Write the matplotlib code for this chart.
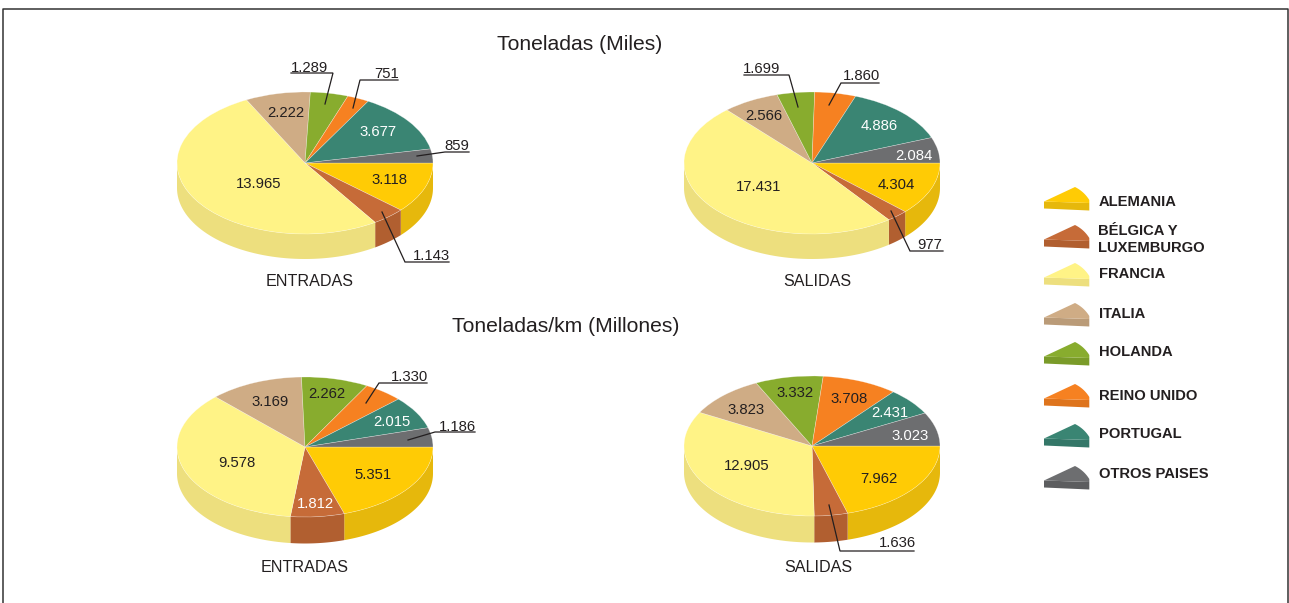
import numpy as np
import matplotlib
matplotlib.use("Agg")
import matplotlib.pyplot as plt
from matplotlib.patches import Polygon

plt.rcParams['font.family'] = ['Liberation Sans', 'DejaVu Sans']

W, H = 1289, 603

# Datos
paises = ['ALEMANIA', 'BÉLGICA Y\nLUXEMBURGO', 'FRANCIA', 'ITALIA', 'HOLANDA',
          'REINO UNIDO', 'PORTUGAL', 'OTROS PAISES']
miles_entradas = [3118, 1143, 13965, 2222, 1289, 751, 3677, 859]
miles_salidas = [4304, 977, 17431, 2566, 1699, 1860, 4886, 2084]
km_entradas = [5351, 1812, 9578, 3169, 2262, 1330, 2015, 1186]
km_salidas = [7962, 1636, 12905, 3823, 3332, 3708, 2431, 3023]

# Colores: cara superior y lateral
col_top = ['#FFCB05', '#C66B38', '#FFF386', '#CFAC85', '#88AC2E', '#F68121', '#3A8573', '#6D6E70']
col_side = ['#E6B80C', '#B15F30', '#EDDF7E', '#BA9B78', '#7A9B29', '#DE741D', '#347768', '#5C5D5F']
TEXTO = '#231F20'
BLANCOS = {3677, 4886, 2084, 2015, 2431, 3023, 1812}

# Posicion de cada tarta (centro x, centro y, rx, ry, grosor) y de sus etiquetas en pixeles
tartas = [
    (miles_entradas, (305, 163, 128, 71, 25),
     [(389, 179), (431, 255), (259, 183), (286, 112), (310, 67), (387, 73), (378, 131), (457, 145)],
     [[(291, 73), (333, 73), (325, 104)], [(398, 80), (360, 80), (353, 108)],
      [(469, 152), (445, 152), (417, 156)], [(449, 262), (405, 262), (382, 212)]]),
    (miles_salidas, (812, 163, 128, 71, 25),
     [(896, 184), (930, 244), (759, 186), (764, 115), (762, 68), (862, 75), (879, 125), (914, 155)],
     [[(744, 75), (789, 75), (798, 107)], [(879, 83), (841, 83), (829, 105)],
      [(943, 251), (910, 251), (891, 211)]]),
    (km_entradas, (305, 447, 128, 70, 26.5),
     [(373, 474), (315, 503), (237, 462), (270, 401), (327, 393), (409, 376), (392, 421), (457, 426)],
     [[(427, 383), (379, 383), (366, 403)], [(475, 432), (435, 432), (408, 440)]]),
    (km_salidas, (812, 446, 128, 70, 26.5),
     [(879, 478), (897, 542), (747, 465), (746, 409), (795, 392), (849, 398), (890, 412), (910, 435)],
     [[(914, 551), (840, 551), (829, 505)]]),
]

fig = plt.figure(figsize=(W / 100, H / 100), dpi=100, facecolor='white')


def tarta(valores, geo):
    cx, cy, rx, ry, d = geo
    ax = fig.add_axes([(cx - rx) / W, 1 - (cy + ry + d) / H, 2 * rx / W, (2 * ry + d) / H])
    grosor = d / ry
    # Lateral: solo la mitad delantera es visible
    bordes = np.cumsum([0] + list(valores)) / sum(valores) * 360
    for i in range(len(valores)):
        a, b = bordes[i], min(bordes[i + 1], 180)
        if a >= 180:
            continue
        t = np.radians(np.linspace(a, b, 60))
        x = np.cos(t)
        y = -np.sin(t)
        ax.fill(np.r_[x, x[::-1]], np.r_[y, y[::-1] - grosor], color=col_side[i], lw=0)
    ax.pie(valores, colors=col_top, startangle=0, counterclock=False, radius=1,
           wedgeprops={'linewidth': 0.4, 'edgecolor': (1, 1, 1, 0.45)})
    ax.set_aspect('auto')
    ax.set_xlim(-1, 1)
    ax.set_ylim(-1 - grosor, 1)
    ax.axis('off')
    ax.patch.set_alpha(0)


for valores, geo, _, _ in tartas:
    tarta(valores, geo)

# Capa en pixeles para textos, lineas guia y leyenda
capa = fig.add_axes([0, 0, 1, 1], zorder=5)
capa.set_xlim(0, W)
capa.set_ylim(H, 0)
capa.axis('off')
capa.patch.set_alpha(0)

# Marco
capa.plot([2.7, 2.7, 1288, 1288], [H, 9, 9, H], color='#333333', lw=1.1)

for valores, geo, pos, guias in tartas:
    for v, (x, y) in zip(valores, pos):
        txt = f'{v:,}'.replace(',', '.')
        capa.text(x, y + 0.8, txt, ha='center', va='center', fontsize=10.7,
                  color='white' if v in BLANCOS else TEXTO)
    for g in guias:
        xs, ys = zip(*g)
        capa.plot(xs, ys, color=TEXTO, lw=0.9, solid_joinstyle='miter')

capa.text(580, 44.5, 'Toneladas (Miles)', ha='center', va='center', fontsize=15.2, color=TEXTO)
capa.text(566, 327, 'Toneladas/km (Millones)', ha='center', va='center', fontsize=15.2, color=TEXTO)
for x, y, s in [(310, 282, 'ENTRADAS'), (817, 282, 'SALIDAS'),
                (305, 568, 'ENTRADAS'), (818, 568, 'SALIDAS')]:
    capa.text(x, y, s, ha='center', va='center', fontsize=11.6, color=TEXTO)

# Leyenda con porciones pequenas
ley_y = [187, 225, 263, 303, 342, 384, 424, 466]
ley_txt = [201.5, 239.5, 273.5, 314.5, 352.5, 395.5, 434.5, 474.5]
s = np.linspace(0, 1, 14)
for i, (y0, yt) in enumerate(zip(ley_y, ley_txt)):
    # Curva del borde exterior de la porcion
    arco = np.c_[1075 + 2 * (1 - s) * s * 9 + s ** 2 * 14.3,
                 y0 + 2 * (1 - s) * s * 4.5 + s ** 2 * 13]
    lateral = Polygon([(1044, y0 + 14.5), (1089.3, y0 + 16), (1089.3, y0 + 23.5), (1044, y0 + 21.5)],
                      closed=True, fc=col_side[i], ec='none')
    arriba = Polygon(np.r_[[(1044, y0 + 14.5)], arco, [(1089.3, y0 + 16)]],
                     closed=True, fc=col_top[i], ec='none')
    capa.add_patch(lateral)
    capa.add_patch(arriba)
    capa.text(1099 if i != 1 else 1098, yt, paises[i], ha='left', va='center', fontsize=10.65,
              fontweight='bold', color=TEXTO, linespacing=1.3)

fig.savefig('out.png', dpi=100)
